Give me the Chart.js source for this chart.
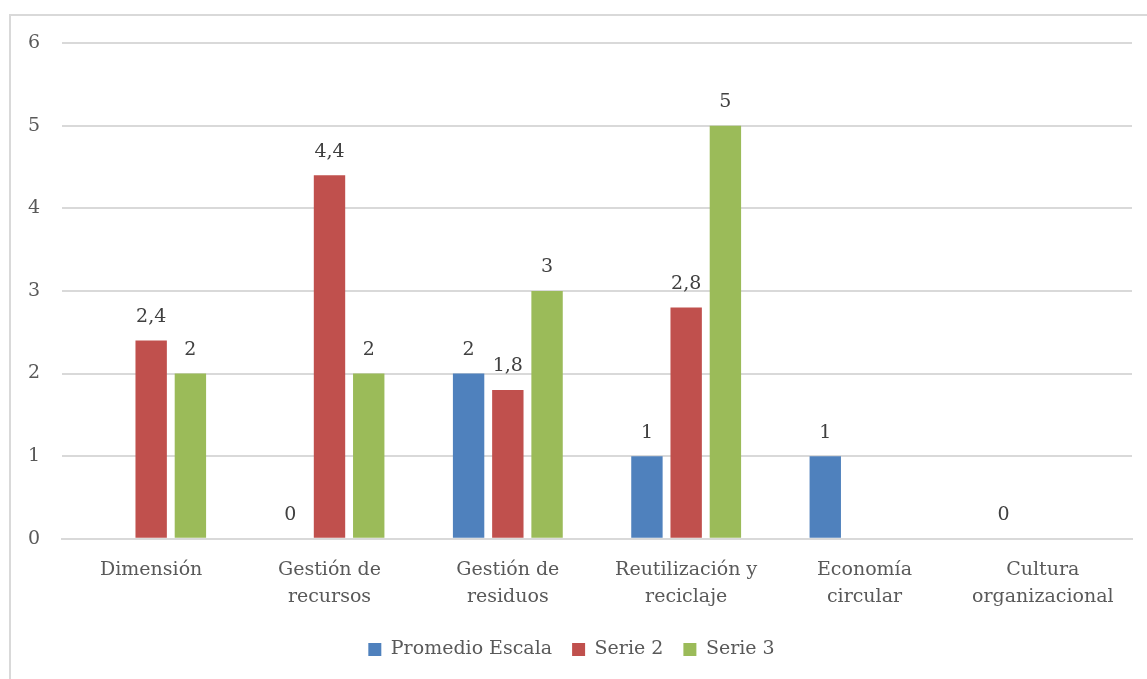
<!DOCTYPE html>
<html>
<head>
<meta charset="utf-8">
<script src="https://cdn.jsdelivr.net/npm/chart.js@4/dist/chart.umd.min.js"></script>
<style>
  html, body { margin: 0; padding: 0; background: #fff; overflow: hidden; }
  #frame {
    position: absolute; left: 9px; top: 14px;
    width: 1140px; height: 670px;
    border: 2px solid #d9d9d9;
  }
  #wrap { position: absolute; left: 0; top: 0; width: 1136px; height: 663px; }
</style>
</head>
<body>
<div id="frame"><div id="wrap"><canvas id="chart"></canvas></div></div>
<script>
const categories = [
    'Dimensión',
    ['Gestión de', 'recursos'],
    ['Gestión de', 'residuos'],
    ['Reutilización y', 'reciclaje'],
    ['Economía', 'circular'],
    ['Cultura', 'organizacional']
];
const promedioEscala = [null, 0, 2, 1, 1, 0];
const serie2 = [2.4, 4.4, 1.8, 2.8, null, null];
const serie3 = [2, 2, 3, 5, null, null];
const yTicks = [0, 1, 2, 3, 4, 5, 6];

const FONT = "'DejaVu Serif', serif";
const TEXT = '#595959';

// draws the value above each bar, comma as decimal mark
const valueLabels = {
    id: 'valueLabels',
    afterDatasetsDraw(chart) {
        const c = chart.ctx;
        c.save();
        c.font = '19px ' + FONT;
        c.fillStyle = '#404040';
        c.textAlign = 'center';
        c.textBaseline = 'bottom';
        chart.data.datasets.forEach((ds, i) => {
            chart.getDatasetMeta(i).data.forEach((bar, j) => {
                const v = ds.data[j];
                if (v === null || v === undefined) return;
                c.fillText(String(v).replace('.', ','), bar.x, bar.y - 14);
            });
        });
        c.restore();
    }
};

new Chart(document.getElementById('chart').getContext('2d'), {
    type: 'bar',
    data: {
        labels: categories,
        datasets: [
            { label: 'Promedio Escala', data: promedioEscala, backgroundColor: '#4f81bd' },
            { label: 'Serie 2', data: serie2, backgroundColor: '#c0504d' },
            { label: 'Serie 3', data: serie3, backgroundColor: '#9bbb59' }
        ]
    },
    options: {
        responsive: true,
        maintainAspectRatio: false,
        animation: false,
        categoryPercentage: 0.66,
        barPercentage: 0.8,
        layout: { padding: { top: 27, right: 15, left: 0, bottom: 10 } },
        scales: {
            x: {
                grid: { display: false },
                border: { color: '#d9d9d9', width: 2 },
                ticks: {
                    color: TEXT,
                    font: { family: FONT, size: 19, lineHeight: 1.4 },
                    maxRotation: 0,
                    padding: 10
                }
            },
            y: {
                min: 0,
                max: 6,
                afterBuildTicks: (scale) => { scale.ticks = yTicks.map(v => ({ value: v })); },
                afterFit: (scale) => {
                    scale.width = 51;
                    scale.paddingTop = 0;
                    scale.paddingBottom = 0;
                },
                border: { display: false },
                grid: { color: '#d9d9d9', lineWidth: 2, drawTicks: false },
                ticks: {
                    color: TEXT,
                    font: { family: FONT, size: 19 },
                    padding: 22
                }
            }
        },
        plugins: {
            legend: {
                position: 'bottom',
                labels: {
                    color: TEXT,
                    font: { family: FONT, size: 19 },
                    boxWidth: 13,
                    boxHeight: 13,
                    padding: 20
                }
            },
            tooltip: { enabled: false }
        }
    },
    plugins: [valueLabels]
});
</script>
</body>
</html>
